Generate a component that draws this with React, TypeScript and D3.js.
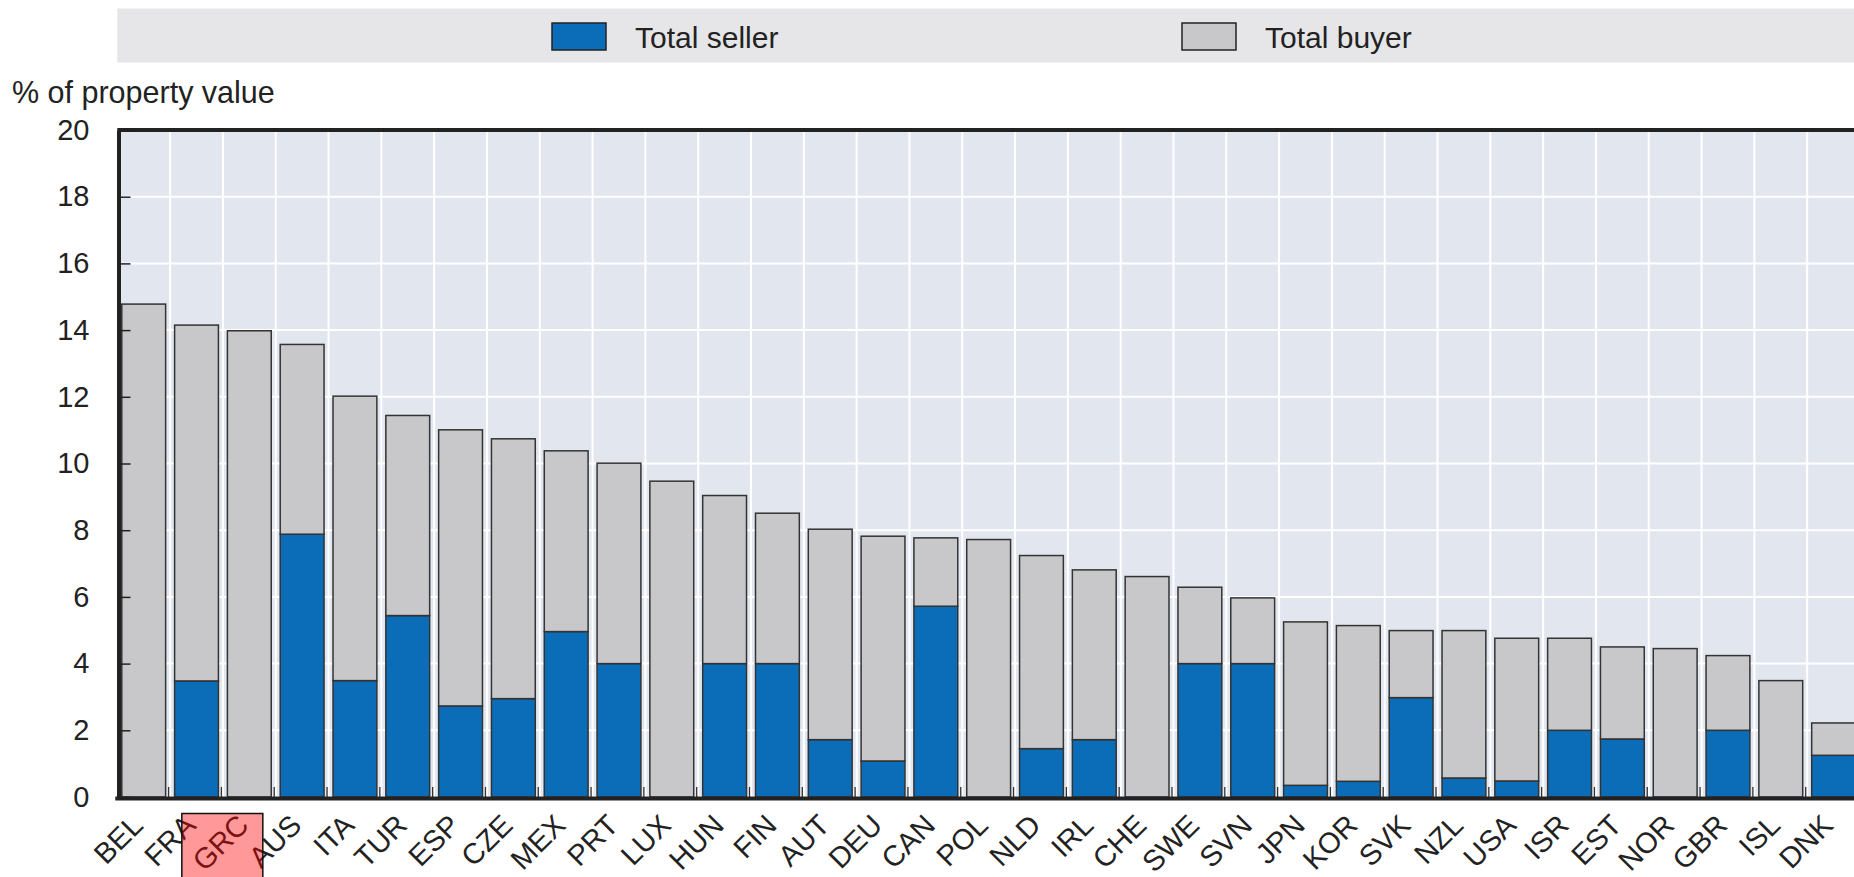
import * as d3 from "d3";
import { useEffect, useRef } from "react";

const countries = [
  "BEL", "FRA", "GRC", "AUS", "ITA", "TUR", "ESP", "CZE", "MEX", "PRT", "LUX",
  "HUN", "FIN", "AUT", "DEU", "CAN", "POL", "NLD", "IRL", "CHE", "SWE", "SVN",
  "JPN", "KOR", "SVK", "NZL", "USA", "ISR", "EST", "NOR", "GBR", "ISL", "DNK",
];

// seller share, % of property value
const sellerValues = [
  0, 3.48, 0, 7.88, 3.49, 5.44, 2.73, 2.95, 4.96, 4.0, 0,
  4.0, 4.0, 1.72, 1.08, 5.72, 0, 1.45, 1.72, 0, 4.0, 4.0,
  0.35, 0.47, 2.98, 0.57, 0.48, 2.0, 1.74, 0, 2.0, 0, 1.25,
];

// buyer share, stacked on top of seller
const buyerValues = [
  14.78, 10.67, 13.98, 5.69, 8.53, 6.0, 8.28, 7.79, 5.42, 6.01, 9.47,
  5.04, 4.51, 6.31, 6.74, 2.05, 7.72, 5.79, 5.09, 6.61, 2.29, 1.97,
  4.9, 4.67, 2.01, 4.42, 4.28, 2.76, 2.76, 4.45, 2.24, 3.49, 0.97,
];

const yTicks = [0, 2, 4, 6, 8, 10, 12, 14, 16, 18, 20];

const seriesKeys = ["seller", "buyer"];
const seriesNames = ["Total seller", "Total buyer"];
const highlighted = "GRC";

const FONT = "'Liberation Sans', Arial, sans-serif";

export default function App() {
  const ref = useRef<SVGSVGElement>(null);

  useEffect(() => {
    if (!ref.current) return;
    const svg = d3.select(ref.current);
    svg.selectAll("*").remove();

    const width = 1854,
      height = 877;
    const margin = { top: 130, left: 117.3, right: -6, bottom: 80 };
    const plotRight = width - margin.right;
    const plotBottom = height - margin.bottom;

    const colors: Record<string, string> = { seller: "#0b6db8", buyer: "#c8c8ca" };

    const table = countries.map((c, i) => ({
      country: c,
      seller: sellerValues[i],
      buyer: buyerValues[i],
    }));

    const x = d3
      .scaleBand()
      .domain(countries)
      .range([margin.left, plotRight])
      .paddingInner(0.17)
      .paddingOuter(0.085);

    const y = d3.scaleLinear().domain([0, 20]).range([plotBottom, margin.top]);

    const half = (x.step() - x.bandwidth()) / 2;

    // Legend band
    svg.append("rect")
      .attr("x", margin.left)
      .attr("y", 8.5)
      .attr("width", width - margin.left)
      .attr("height", 54)
      .attr("fill", "#e6e6e8");

    const legendX = [552, 1182];
    seriesKeys.forEach((k, i) => {
      svg.append("rect")
        .attr("x", legendX[i])
        .attr("y", 23)
        .attr("width", 54)
        .attr("height", 27)
        .attr("fill", colors[k])
        .attr("stroke", "#222")
        .attr("stroke-width", 1.5);
      svg.append("text")
        .attr("x", legendX[i] + 83)
        .attr("y", 47.5)
        .attr("font-family", FONT)
        .attr("font-size", "30px")
        .attr("fill", "#222")
        .text(seriesNames[i]);
    });

    // Unit label
    svg.append("text")
      .attr("x", 12)
      .attr("y", 103)
      .attr("font-family", FONT)
      .attr("font-size", "30.5px")
      .attr("fill", "#222")
      .text("% of property value");

    // Plot background
    svg.append("rect")
      .attr("x", margin.left)
      .attr("y", margin.top)
      .attr("width", plotRight - margin.left)
      .attr("height", plotBottom - margin.top)
      .attr("fill", "#e1e6ef");

    // Grid
    svg.append("g")
      .selectAll("line")
      .data(yTicks)
      .join("line")
      .attr("x1", margin.left)
      .attr("x2", plotRight)
      .attr("y1", (d) => y(d))
      .attr("y2", (d) => y(d))
      .attr("stroke", "#fff")
      .attr("stroke-width", 2);

    svg.append("g")
      .selectAll("line")
      .data(countries.slice(1))
      .join("line")
      .attr("x1", (d) => x(d)! - half)
      .attr("x2", (d) => x(d)! - half)
      .attr("y1", margin.top)
      .attr("y2", plotBottom)
      .attr("stroke", "#fff")
      .attr("stroke-width", 2);

    // Stacked bars
    const stacked = d3.stack<any>().keys(seriesKeys)(table);

    svg.append("g")
      .selectAll("g")
      .data(stacked)
      .join("g")
      .attr("fill", (s) => colors[s.key])
      .selectAll("rect")
      .data((s) => s)
      .join("rect")
      .attr("x", (d) => x(d.data.country)!)
      .attr("width", x.bandwidth())
      .attr("y", (d) => y(d[1]))
      .attr("height", (d) => y(d[0]) - y(d[1]))
      .attr("stroke", "#333")
      .attr("stroke-width", 1.5);

    // Bottom ticks at band boundaries
    svg.append("g")
      .selectAll("line")
      .data(countries.slice(1))
      .join("line")
      .attr("x1", (d) => x(d)! - half - 1.5)
      .attr("x2", (d) => x(d)! - half - 1.5)
      .attr("y1", plotBottom - 10)
      .attr("y2", plotBottom)
      .attr("stroke", "#333")
      .attr("stroke-width", 1.3);

    // Frame: top line and bottom axis line
    svg.append("line")
      .attr("x1", margin.left)
      .attr("x2", plotRight)
      .attr("y1", margin.top)
      .attr("y2", margin.top)
      .attr("stroke", "#222")
      .attr("stroke-width", 4);

    svg.append("line")
      .attr("x1", margin.left - 2)
      .attr("x2", plotRight)
      .attr("y1", plotBottom + 1.5)
      .attr("y2", plotBottom + 1.5)
      .attr("stroke", "#222")
      .attr("stroke-width", 4);

    // Y axis
    const yAxis = svg.append("g")
      .attr("transform", `translate(${margin.left + 1.2}, 0)`)
      .call(
        d3.axisLeft(y)
          .tickValues(yTicks)
          .tickSizeInner(-12)
          .tickSizeOuter(0)
          .tickPadding(29)
      );
    yAxis.select(".domain").attr("stroke", "#222").attr("stroke-width", 4);
    yAxis.selectAll(".tick line").attr("stroke", "#222").attr("stroke-width", 1.5);
    yAxis.selectAll(".tick text")
      .attr("font-family", FONT)
      .attr("font-size", "29px")
      .attr("fill", "#222");

    // Category labels
    svg.append("g")
      .selectAll("text")
      .data(countries)
      .join("text")
      .attr(
        "transform",
        (d) => `translate(${x(d)! + x.bandwidth() / 2 + 1}, ${plotBottom + 30}) rotate(-45)`
      )
      .attr("text-anchor", "end")
      .attr("font-family", FONT)
      .attr("font-size", "29px")
      .attr("fill", "#222")
      .text((d) => d);

    // Highlight box over the GRC label
    const hx = x(highlighted)! + x.bandwidth() / 2;
    svg.append("rect")
      .attr("x", hx - 67.5)
      .attr("y", plotBottom + 16.5)
      .attr("width", 81)
      .attr("height", 90)
      .attr("fill", "rgba(255,0,0,0.4)")
      .attr("stroke", "#111")
      .attr("stroke-width", 1.5);
  }, []);

  return (
    <svg
      ref={ref}
      width={1854}
      height={877}
      style={{ position: "absolute", left: 0, top: 0, display: "block" }}
    />
  );
}
